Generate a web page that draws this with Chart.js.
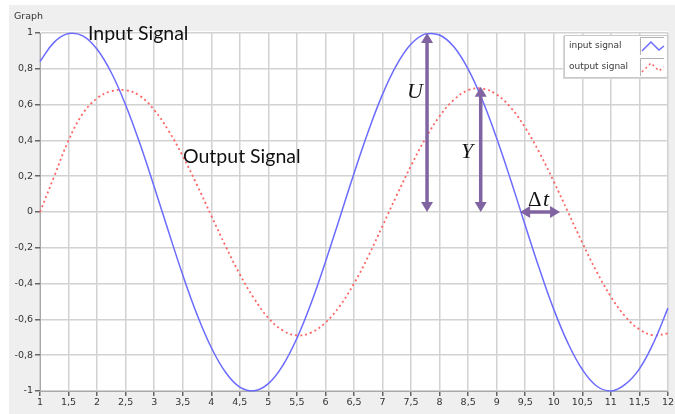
<!DOCTYPE html>
<html>
<head>
<meta charset="utf-8">
<title>Graph</title>
<script src="https://cdn.jsdelivr.net/npm/chart.js@4.4.1/dist/chart.umd.min.js"></script>
<style>
  html, body { margin: 0; padding: 0; background: #fff; }
  #wrap { width: 675px; height: 414px; }
</style>
</head>
<body>
<div id="wrap"><canvas id="graph" width="675" height="414"></canvas></div>
<script>
// time axis (s), sampled every 0.25
const times = [
  1, 1.25, 1.5, 1.75, 2, 2.25, 2.5, 2.75, 3, 3.25, 3.5, 3.75,
  4, 4.25, 4.5, 4.75, 5, 5.25, 5.5, 5.75, 6, 6.25, 6.5, 6.75,
  7, 7.25, 7.5, 7.75, 8, 8.25, 8.5, 8.75, 9, 9.25, 9.5, 9.75,
  10, 10.25, 10.5, 10.75, 11, 11.25, 11.5, 11.75, 12
];
const inputSignal = [
  0.841, 0.949, 0.997, 0.984, 0.909, 0.778, 0.598, 0.382, 0.141, -0.108, -0.351, -0.572,
  -0.757, -0.895, -0.978, -0.999, -0.959, -0.859, -0.706, -0.509, -0.279, -0.033, 0.215, 0.450,
  0.657, 0.823, 0.938, 0.995, 0.989, 0.923, 0.798, 0.624, 0.412, 0.174, -0.075, -0.319,
  -0.544, -0.734, -0.880, -0.972, -1.000, -0.963, -0.876, -0.729, -0.537
];
const outputSignal = [
  0, 0.20, 0.40, 0.55, 0.635, 0.675, 0.68, 0.649, 0.570, 0.455, 0.313, 0.151,
  -0.020, -0.190, -0.348, -0.483, -0.592, -0.661, -0.689, -0.674, -0.618, -0.526, -0.400, -0.248,
  -0.078, 0.094, 0.259, 0.409, 0.535, 0.627, 0.680, 0.689, 0.656, 0.582, 0.471, 0.331,
  0.170, -0.001, -0.172, -0.333, -0.473, -0.583, -0.656, -0.689, -0.678
];
const seriesNames = ["input signal", "output signal"];

// measurement markers: amplitude U, amplitude Y, delay Δt
const uArrow = { x: 7.78, from: 1.0, to: 0 };
const yArrow = { x: 8.72, from: 0.70, to: 0 };
const dtArrow = { y: 0, from: 9.41, to: 10.11 };

const fmt = v => String(Math.round(v * 10) / 10).replace('.', ',');
const PURPLE = '#8064a2';
const TICK_FONT = { family: '"DejaVu Sans", sans-serif', size: 9.5 };

function arrowHead(ctx, x, y, ang) {
  ctx.save();
  ctx.translate(x, y);
  ctx.rotate(ang);
  ctx.beginPath();
  ctx.moveTo(0, 0);
  ctx.lineTo(-10, -6);
  ctx.lineTo(-10, 6);
  ctx.closePath();
  ctx.fill();
  ctx.restore();
}

function doubleArrow(ctx, x1, y1, x2, y2) {
  const ang = Math.atan2(y2 - y1, x2 - x1);
  const ux = Math.cos(ang), uy = Math.sin(ang);
  ctx.beginPath();
  ctx.moveTo(x1 + ux * 8, y1 + uy * 8);
  ctx.lineTo(x2 - ux * 8, y2 - uy * 8);
  ctx.stroke();
  arrowHead(ctx, x2, y2, ang);
  arrowHead(ctx, x1, y1, ang + Math.PI);
}

// grey panel + white plot area
const panel = {
  id: 'panel',
  beforeDraw(chart) {
    const { ctx, chartArea: a } = chart;
    ctx.save();
    ctx.fillStyle = '#ffffff';
    ctx.fillRect(0, 0, chart.width, chart.height);
    ctx.fillStyle = '#efefef';
    ctx.fillRect(9, 5, chart.width - 9, chart.height - 5);
    ctx.fillStyle = '#ffffff';
    ctx.fillRect(a.left, a.top - 2, a.right - a.left, a.bottom - a.top + 2);
    ctx.fillStyle = '#333';
    ctx.font = '9.5px "DejaVu Sans", sans-serif';
    ctx.textBaseline = 'middle';
    ctx.fillText('Graph', 14, 17);
    ctx.restore();
  }
};

// legend box with sample-line icons
const legendBox = {
  id: 'legendBox',
  afterDraw(chart) {
    const { ctx, chartArea: a } = chart;
    const right = a.right, left = right - 104, top = a.top + 2, h = 43;
    ctx.save();
    ctx.fillStyle = '#d8d8d8';
    ctx.fillRect(left - 1, top + 1, right - left + 1, h);
    ctx.fillStyle = '#ffffff';
    ctx.fillRect(left, top, right - left, h);
    ctx.strokeStyle = '#c8c8c8';
    ctx.lineWidth = 1;
    ctx.strokeRect(left + 0.5, top + 0.5, right - left - 1, h - 1);
    ctx.font = '9px "DejaVu Sans", sans-serif';
    ctx.textBaseline = 'middle';
    chart.data.datasets.forEach((ds, i) => {
      const cy = top + 11 + i * 21;
      ctx.fillStyle = '#3a3a3a';
      ctx.fillText(seriesNames[i], left + 5, cy);
      const bx = right - 28, by = cy - 9;
      ctx.strokeStyle = '#b0b0b0';
      ctx.setLineDash([]);
      ctx.beginPath();
      ctx.moveTo(bx + 0.5, by + 18);
      ctx.lineTo(bx + 0.5, by + 0.5);
      ctx.lineTo(bx + 24, by + 0.5);
      ctx.stroke();
      ctx.strokeStyle = ds.borderColor;
      ctx.lineWidth = 1.5;
      ctx.setLineDash(ds.borderDash || []);
      ctx.beginPath();
      ctx.moveTo(bx + 2, by + 14);
      ctx.lineTo(bx + 11, by + 5);
      ctx.lineTo(bx + 19, by + 13);
      ctx.lineTo(bx + 24, by + 9);
      ctx.stroke();
      ctx.setLineDash([]);
      ctx.lineWidth = 1;
    });
    ctx.restore();
  }
};

// signal captions and measurement arrows
const markers = {
  id: 'markers',
  afterDatasetsDraw(chart) {
    const { ctx, scales: { x, y } } = chart;
    ctx.save();
    ctx.fillStyle = '#111';
    ctx.font = '19.5px Lato, "Open Sans", sans-serif';
    ctx.textBaseline = 'middle';
    ctx.fillText('Input Signal', 88, 34);
    ctx.fillText('Output Signal', 183, 157);

    ctx.strokeStyle = PURPLE;
    ctx.fillStyle = PURPLE;
    ctx.lineWidth = 3.5;
    doubleArrow(ctx, x.getPixelForValue(uArrow.x), y.getPixelForValue(uArrow.from),
                x.getPixelForValue(uArrow.x), y.getPixelForValue(uArrow.to));
    doubleArrow(ctx, x.getPixelForValue(yArrow.x), y.getPixelForValue(yArrow.from),
                x.getPixelForValue(yArrow.x), y.getPixelForValue(yArrow.to));
    doubleArrow(ctx, x.getPixelForValue(dtArrow.from), y.getPixelForValue(dtArrow.y),
                x.getPixelForValue(dtArrow.to), y.getPixelForValue(dtArrow.y));

    ctx.fillStyle = '#111';
    ctx.font = 'italic 22px "Liberation Serif", "DejaVu Serif", serif';
    ctx.textAlign = 'center';
    ctx.fillText('U', 415, 92);
    ctx.fillText('Y', 467, 152);
    ctx.textAlign = 'left';
    ctx.font = '21px "Liberation Serif", "DejaVu Serif", serif';
    ctx.fillText('Δ', 528, 200);
    ctx.font = 'italic 22px "Liberation Serif", "DejaVu Serif", serif';
    ctx.fillText('t', 543, 200);
    ctx.restore();
  }
};

new Chart(document.getElementById('graph'), {
  type: 'line',
  data: {
    datasets: [
      {
        label: seriesNames[0],
        data: times.map((t, i) => ({ x: t, y: inputSignal[i] })),
        borderColor: '#6b6bff',
        borderWidth: 1.5,
        pointRadius: 0,
        tension: 0.4,
        clip: 3
      },
      {
        label: seriesNames[1],
        data: times.map((t, i) => ({ x: t, y: outputSignal[i] })),
        borderColor: '#ff6464',
        borderWidth: 1.8,
        borderDash: [2, 3],
        pointRadius: 0,
        tension: 0.4,
        clip: 3
      }
    ]
  },
  options: {
    responsive: false,
    animation: false,
    layout: { padding: { left: 9, right: 3, top: 33, bottom: 3 } },
    plugins: {
      legend: { display: false },
      tooltip: { enabled: false }
    },
    scales: {
      x: {
        type: 'linear',
        min: 1,
        max: 12,
        afterFit: s => { s.height = 20; },
        ticks: {
          stepSize: 0.5,
          autoSkip: false,
          maxRotation: 0,
          padding: 1,
          color: '#333',
          font: TICK_FONT,
          callback: v => fmt(v)
        },
        grid: { color: '#d2d2d2', lineWidth: 1.5, tickLength: 5, tickColor: '#666' },
        border: { color: '#a8a8a8' }
      },
      y: {
        min: -1,
        max: 1,
        afterFit: s => { s.width = 31; },
        ticks: {
          stepSize: 0.2,
          padding: 2,
          color: '#333',
          font: TICK_FONT,
          callback: v => fmt(v)
        },
        grid: { color: '#d2d2d2', lineWidth: 1.5, tickLength: 5, tickColor: '#666' },
        border: { color: '#a8a8a8' }
      }
    }
  },
  plugins: [panel, legendBox, markers]
});
</script>
</body>
</html>
